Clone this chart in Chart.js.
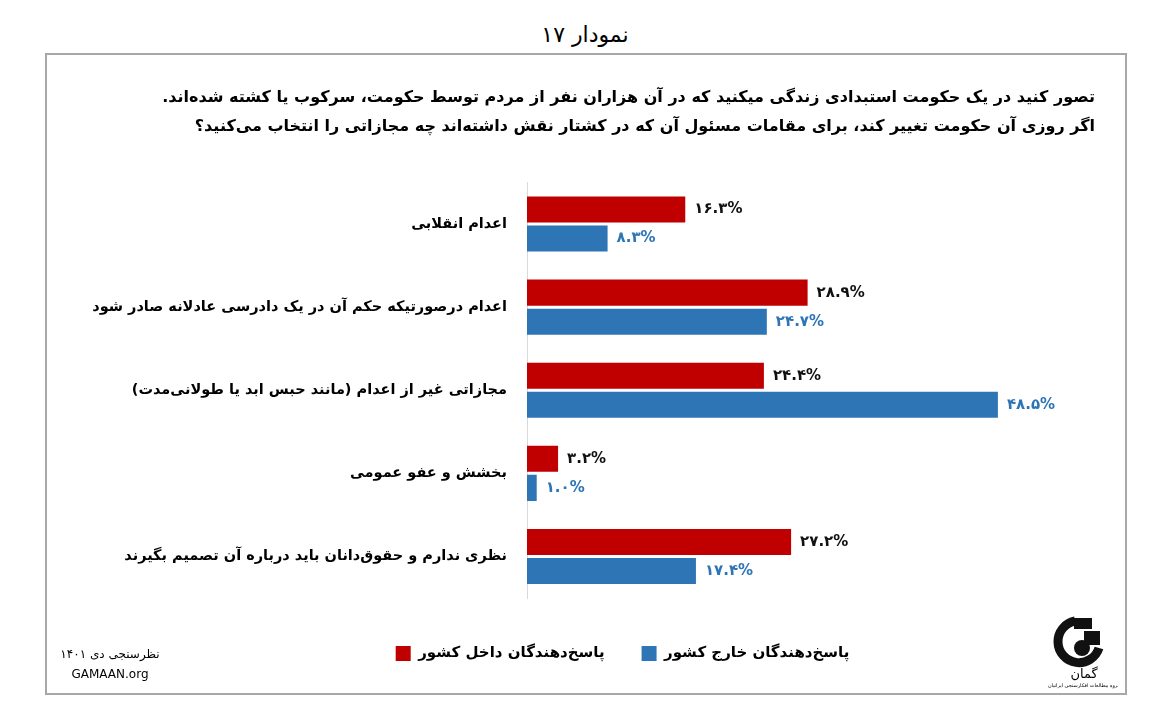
<!DOCTYPE html>
<html lang="fa">
<head>
<meta charset="utf-8">
<script src="https://cdn.jsdelivr.net/npm/chart.js@4.4.0/dist/chart.umd.min.js"></script>
<style>
html,body{margin:0;padding:0;background:#fff;}
#wrap{position:relative;width:1170px;height:715px;overflow:hidden;font-family:"DejaVu Sans",sans-serif;color:#000;}
#pageTitle{position:absolute;left:0;width:1170px;top:20px;line-height:30px;text-align:center;font-size:22px;direction:rtl;}
#box{position:absolute;left:45px;top:53px;width:1078px;height:638px;border:2px solid #a8a8a8;}
#chart{position:absolute;left:0;top:0;}
#foot{position:absolute;left:40px;width:140px;top:644px;text-align:center;font-size:12px;line-height:20px;direction:rtl;}
#logo{position:absolute;left:1048px;top:612px;}
</style>
</head>
<body>
<div id="wrap">
  <div id="pageTitle">نمودار ۱۷</div>
  <div id="box"></div>
  <canvas id="chart" width="1170" height="715" dir="rtl"></canvas>
  <div id="foot"><div>نظرسنجی دی ۱۴۰۱</div><div dir="ltr">GAMAAN.org</div></div>
  <svg id="logo" width="70" height="80" viewBox="0 0 70 80">
    <path d="M 27 9 A 21 21 0 1 0 51 36" fill="none" stroke="#111" stroke-width="9"/>
    <circle cx="34" cy="36" r="8" fill="#111"/>
    <rect x="26" y="6" width="18" height="11" fill="#111"/>
    <rect x="36" y="19" width="16" height="14" fill="#111"/>
    <text x="36" y="66" font-size="13" text-anchor="middle" font-family="DejaVu Sans" direction="rtl">گمان</text>
    <text x="36" y="75" font-size="5" text-anchor="middle" font-family="DejaVu Sans" direction="rtl">گروه مطالعات افکارسنجی ایرانیان</text>
  </svg>
</div>
<script>
const categories = [
  'اعدام انقلابی',
  'اعدام درصورتیکه حکم آن در یک دادرسی عادلانه صادر شود',
  'مجازاتی غیر از اعدام (مانند حبس ابد یا طولانی‌مدت)',
  'بخشش و عفو عمومی',
  'نظری ندارم و حقوق‌دانان باید درباره آن تصمیم بگیرند'
];
const insideValues = [16.3, 28.9, 24.4, 3.2, 27.2];
const outsideValues = [8.3, 24.7, 48.5, 1.0, 17.4];
const seriesNames = ['پاسخ‌دهندگان داخل کشور', 'پاسخ‌دهندگان خارج کشور'];
const questionLines = [
  'تصور کنید در یک حکومت استبدادی زندگی میکنید که در آن هزاران نفر از مردم توسط حکومت، سرکوب یا کشته شده‌اند.',
  'اگر روزی آن حکومت تغییر کند، برای مقامات مسئول آن که در کشتار نقش داشته‌اند چه مجازاتی را انتخاب می‌کنید؟'
];

const RED = '#c00000';
const BLUE = '#2e75b6';
const FONT = '"DejaVu Sans", sans-serif';
const faDigits = s => s.replace(/[0-9]/g, d => '۰۱۲۳۴۵۶۷۸۹'[d]);

const valueLabels = {
  id: 'valueLabels',
  afterDatasetsDraw(chart) {
    const ctx = chart.ctx;
    ctx.save();
    ctx.font = 'bold 15px ' + FONT;
    ctx.textBaseline = 'middle';
    ctx.textAlign = 'left';
    chart.data.datasets.forEach((ds, di) => {
      const meta = chart.getDatasetMeta(di);
      ctx.fillStyle = di === 0 ? '#111' : BLUE;
      meta.data.forEach((el, i) => {
        const txt = faDigits(ds.data[i].toFixed(1)) + '%';
        ctx.fillText(txt, el.x + 9, el.y);
      });
    });
    ctx.restore();
  }
};

// shift the legend block so it is centred under the bars as in the original
const legendShift = {
  id: 'legendShift',
  afterLayout(chart) {
    if (chart.legend) { chart.legend.left = 150; }
  }
};

new Chart(document.getElementById('chart'), {
  type: 'bar',
  data: {
    labels: categories,
    datasets: [
      { label: seriesNames[0], data: insideValues, backgroundColor: RED },
      { label: seriesNames[1], data: outsideValues, backgroundColor: BLUE }
    ]
  },
  options: {
    indexAxis: 'y',
    responsive: false,
    animation: false,
    categoryPercentage: 0.699,
    barPercentage: 0.897,
    layout: { padding: { left: 0, right: 75, top: 0, bottom: 44 } },
    scales: {
      x: {
        min: 0, max: 58.5,
        ticks: { display: false },
        grid: { display: false, drawTicks: false },
        border: { display: false },
        afterFit: s => { s.height = 11; }
      },
      y: {
        ticks: { color: '#000', font: { family: FONT, size: 14.5, weight: 'bold' }, padding: 20 },
        grid: { display: false, drawTicks: false },
        border: { display: true, color: '#d9d9d9', width: 1 },
        afterFit: s => { s.width = 527; }
      }
    },
    plugins: {
      title: {
        display: true,
        text: questionLines,
        align: 'end',
        color: '#000',
        font: { family: FONT, size: 16, weight: 'bold', lineHeight: 1.8125 },
        padding: { top: 83.5, bottom: 41 }
      },
      legend: {
        position: 'bottom',
        labels: {
          color: '#000',
          boxWidth: 15, boxHeight: 15,
          padding: 37,
          font: { family: FONT, size: 15, weight: 'bold' }
        }
      },
      tooltip: { enabled: false }
    }
  },
  plugins: [valueLabels, legendShift]
});
</script>
</body>
</html>
